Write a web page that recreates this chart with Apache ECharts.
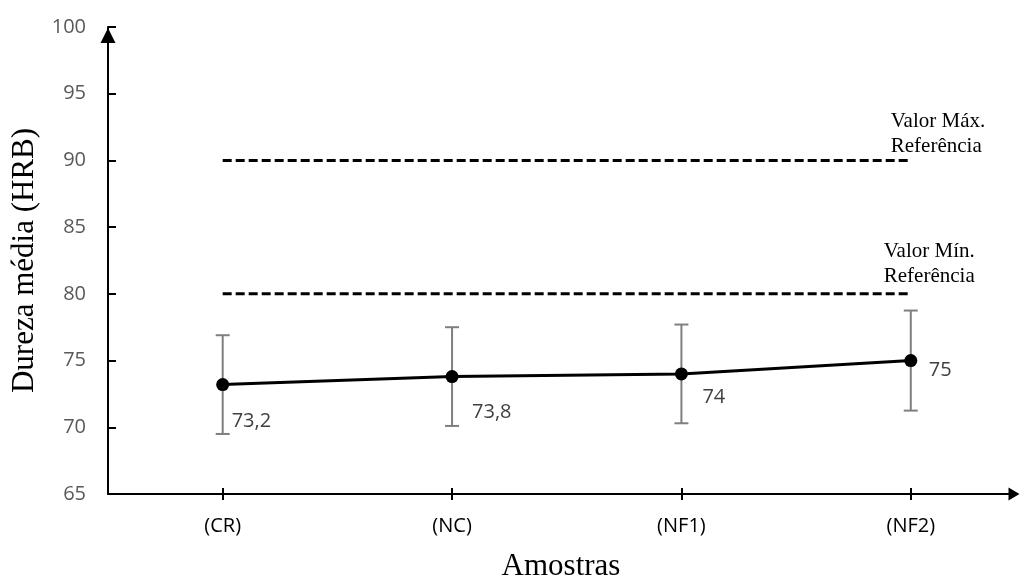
<!DOCTYPE html>
<html>
<head>
<meta charset="utf-8">
<script src="https://cdn.jsdelivr.net/npm/echarts@6/dist/echarts.min.js"></script>
<style>
html,body{margin:0;padding:0;background:#fff;}
#chart{width:1020px;height:579px;}
</style>
</head>
<body>
<div id="chart"></div>
<script>
const categories = ['(CR)', '(NC)', '(NF1)', '(NF2)'];
const means = [73.2, 73.8, 74, 75];
const errors = [3.7, 3.7, 3.7, 3.75];
const refMax = 90;
const refMin = 80;
const refMaxLabel = 'Valor Máx.\nReferência';
const refMinLabel = 'Valor Mín.\nReferência';
const yName = 'Dureza média (HRB)';
const xName = 'Amostras';

// label offsets (style only)
const labelOffsets = [[9, 37], [20, 36], [21, 23], [18, 10]];

const chart = echarts.init(document.getElementById('chart'), null, {renderer: 'canvas'});
const catIdx = categories.map((c, i) => i);
const lastIdx = categories.length - 1;

const sans = 'Open Sans';
const serif = 'Liberation Serif';

const option = {
  animation: false,
  backgroundColor: '#ffffff',
  grid: {left: 108, right: 6, top: 27, bottom: 85, containLabel: false, outerBoundsMode: 'none'},
  xAxis: [{
    type: 'value',
    min: -0.5,
    max: 3.45,
    name: xName,
    nameLocation: 'middle',
    nameGap: 57,
    nameTextStyle: {fontFamily: serif, fontSize: 31, color: '#000'},
    axisLine: {show: true, onZero: false, lineStyle: {color: '#000', width: 2},
      symbol: ['none', 'triangle'], symbolSize: [13, 11], symbolOffset: [0, 0]},
    axisTick: {show: true, customValues: catIdx, length: 6, inside: false, lineStyle: {color: '#000', width: 2}},
    axisLabel: {show: true, customValues: catIdx, margin: 22, fontFamily: sans, fontSize: 20, color: '#000',
      formatter: v => categories[Math.round(v)] || ''},
    splitLine: {show: false}
  }, {
    type: 'value',
    min: -0.5,
    max: 3.45,
    position: 'bottom',
    axisLine: {show: false, onZero: false},
    axisTick: {show: true, customValues: catIdx, length: 6, inside: true, lineStyle: {color: '#000', width: 2}},
    axisLabel: {show: false},
    splitLine: {show: false}
  }],
  yAxis: {
    type: 'value',
    min: 65,
    max: 100,
    interval: 5,
    name: yName,
    nameLocation: 'middle',
    nameGap: 67,
    nameTextStyle: {fontFamily: serif, fontSize: 31, color: '#000'},
    axisLine: {show: true, onZero: false, lineStyle: {color: '#000', width: 2},
      symbol: ['none', 'triangle'], symbolSize: [15, 15], symbolOffset: [0, -8.5]},
    axisTick: {show: true, inside: true, length: 8, lineStyle: {color: '#000', width: 2}},
    axisLabel: {margin: 22, fontFamily: sans, fontSize: 20, color: '#595959'},
    splitLine: {show: false}
  },
  series: [
    {
      type: 'line',
      name: 'refMax',
      data: [[0, refMax], [lastIdx, refMax]],
      symbol: 'circle',
      symbolSize: 0.1,
      itemStyle: {color: '#000'},
      lineStyle: {color: '#000', width: 3, type: [9, 4]},
      label: {
        show: true, position: 'inside', align: 'left', verticalAlign: 'middle',
        offset: [-20, -26], fontFamily: serif, fontSize: 21, lineHeight: 25, color: '#000',
        formatter: p => p.dataIndex === 1 ? refMaxLabel : ''
      },
      silent: true, z: 2
    },
    {
      type: 'line',
      name: 'refMin',
      data: [[0, refMin], [lastIdx, refMin]],
      symbol: 'circle',
      symbolSize: 0.1,
      itemStyle: {color: '#000'},
      lineStyle: {color: '#000', width: 3, type: [9, 4]},
      label: {
        show: true, position: 'inside', align: 'left', verticalAlign: 'middle',
        offset: [-27, -30], fontFamily: serif, fontSize: 21, lineHeight: 25, color: '#000',
        formatter: p => p.dataIndex === 1 ? refMinLabel : ''
      },
      silent: true, z: 2
    },
    {
      type: 'custom',
      name: 'err',
      data: means.map((m, i) => [i, m - errors[i], m + errors[i]]),
      encode: {x: 0, y: [1, 2]},
      renderItem: function (params, api) {
        const x = api.value(0);
        const lo = api.coord([x, api.value(1)]);
        const hi = api.coord([x, api.value(2)]);
        const w = 7;
        const st = {stroke: '#7f7f7f', lineWidth: 2};
        return {type: 'group', children: [
          {type: 'line', shape: {x1: lo[0], y1: lo[1], x2: hi[0], y2: hi[1]}, style: st},
          {type: 'line', shape: {x1: lo[0] - w, y1: lo[1], x2: lo[0] + w, y2: lo[1]}, style: st},
          {type: 'line', shape: {x1: hi[0] - w, y1: hi[1], x2: hi[0] + w, y2: hi[1]}, style: st}
        ]};
      },
      silent: true, z: 3
    },
    {
      type: 'line',
      name: 'mean',
      data: means.map((m, i) => ({
        value: [i, m],
        label: {offset: labelOffsets[i]}
      })),
      symbol: 'circle',
      symbolSize: 13,
      itemStyle: {color: '#000'},
      lineStyle: {color: '#000', width: 3},
      label: {
        show: true, position: 'inside', align: 'left', verticalAlign: 'middle',
        fontFamily: sans, fontSize: 20, color: '#404040',
        formatter: p => String(p.value[1]).replace('.', ',')
      },
      silent: true, z: 4
    }
  ]
};
chart.setOption(option);
</script>
</body>
</html>
